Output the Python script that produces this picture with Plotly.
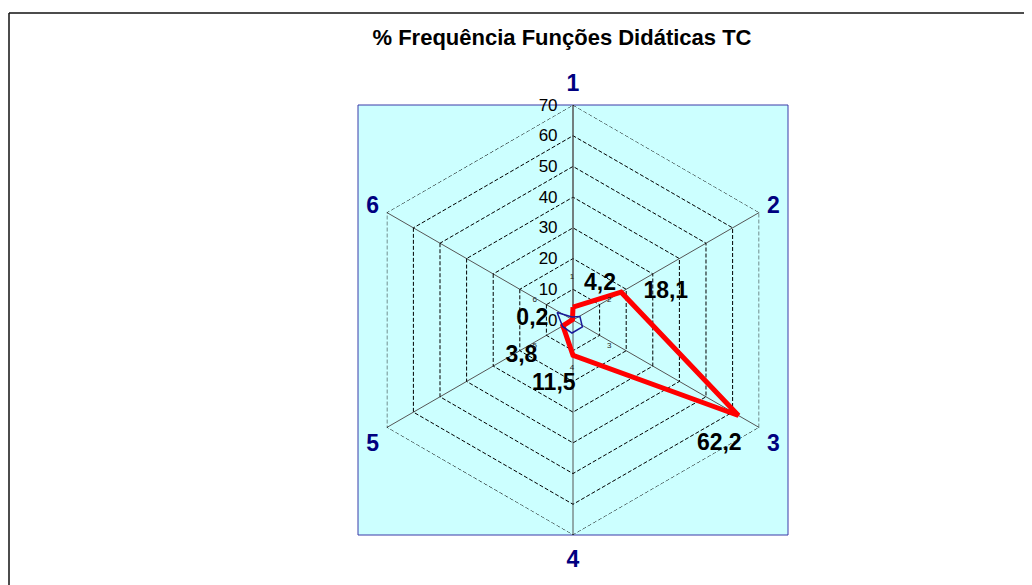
import plotly.graph_objects as go

W, H = 1032, 585
OFF = 8  # default page body margin

categories = ["1", "2", "3", "4", "5", "6"]
values_tc = [4.2, 18.1, 62.2, 11.5, 3.8, 0.2]
value_labels = ["4,2", "18,1", "62,2" + "\u00a0" * 6, "11,5" + "\u00a0" * 6, "3,8\u00a0", "0,2"]
label_positions = ["top right", "middle right", "bottom center", "bottom center", "bottom left", "middle left"]
label_pad = [16, 34, 26, 26, 29, 37]
mini_values = [7, 16, 21, 21, 19, 30]
radial_ticks = [0, 10, 20, 30, 40, 50, 60, 70]


def px_x(x):
    return (x - OFF) / W


def px_y(y):
    return 1 - (y - OFF) / H


fig = go.Figure()

theta_closed = categories + categories[:1]

# outer hexagon at the top radial tick (drawn like the other dashed gridlines)
fig.add_trace(go.Scatterpolar(
    r=[radial_ticks[-1]] * len(theta_closed),
    theta=theta_closed,
    mode="lines",
    line=dict(color="#000000", width=1, dash="4px,2px"),
    hoverinfo="skip",
    subplot="polar",
    showlegend=False,
))
# value labels (invisible markers only set the text offset)
fig.add_trace(go.Scatterpolar(
    r=values_tc,
    theta=categories,
    mode="markers+text",
    marker=dict(size=label_pad, color="rgba(0,0,0,0)", opacity=0, line=dict(width=0)),
    text=value_labels,
    textposition=label_positions,
    textfont=dict(family="Liberation Sans, Arial", size=23, color="#000000", weight="bold"),
    hoverinfo="skip",
    subplot="polar",
    showlegend=False,
))
fig.add_trace(go.Scatterpolar(
    r=values_tc + values_tc[:1],
    theta=theta_closed,
    mode="lines",
    line=dict(color="#ff0000", width=5),
    hoverinfo="skip",
    subplot="polar",
    showlegend=False,
))
fig.add_trace(go.Scatterpolar(
    r=mini_values + mini_values[:1],
    theta=theta_closed,
    mode="lines",
    line=dict(color="#1a1a9a", width=1.5),
    hoverinfo="skip",
    subplot="polar2",
    showlegend=False,
))

fig.update_layout(
    width=W, height=H,
    margin=dict(l=0, r=0, t=0, b=0),
    paper_bgcolor="white",
    plot_bgcolor="white",
    showlegend=False,
    title=dict(
        text="% Frequência Funções Didáticas TC",
        x=px_x(562), y=px_y(37), xanchor="center", yanchor="middle",
        font=dict(family="Liberation Sans, Arial", size=22, color="#000000", weight="bold"),
    ),
    polar=dict(
        domain=dict(x=[px_x(358), px_x(788)], y=[px_y(535), px_y(105)]),
        bgcolor="rgba(0,0,0,0)",
        gridshape="linear",
        angularaxis=dict(
            rotation=90, direction="clockwise",
            categoryorder="array", categoryarray=categories,
            showline=False, layer="below traces",
            showgrid=True, gridcolor="#555555", gridwidth=1,
            ticks="outside", ticklen=4, tickcolor="rgba(0,0,0,0)",
            tickfont=dict(family="Liberation Sans, Arial", size=23, color="#000080", weight="bold"),
        ),
        radialaxis=dict(
            range=[0, radial_ticks[-1]], tickvals=radial_ticks, ticktext=[str(t) for t in radial_ticks],
            angle=90, tickangle=90, side="counterclockwise", layer="below traces",
            showline=True, linecolor="#555555", linewidth=1,
            showgrid=True, gridcolor="#000000", gridwidth=1, griddash="4px,2px",
            ticks="outside", ticklen=9, tickcolor="rgba(0,0,0,0)",
            tickfont=dict(family="Liberation Sans, Arial", size=17, color="#000000"),
        ),
    ),
    polar2=dict(
        domain=dict(x=[px_x(532), px_x(612)], y=[px_y(361), px_y(281)]),
        bgcolor="rgba(0,0,0,0)",
        gridshape="linear",
        angularaxis=dict(
            rotation=90, direction="clockwise",
            categoryorder="array", categoryarray=categories,
            showline=False, showgrid=False, ticks="",
            tickfont=dict(family="Liberation Sans, Arial", size=8, color="#222222"),
        ),
        radialaxis=dict(range=[0, 70], visible=False),
    ),
    shapes=[
        dict(type="rect", xref="paper", yref="paper",
             x0=px_x(358), x1=px_x(788), y0=px_y(535), y1=px_y(105),
             fillcolor="#ccffff", line=dict(color="#3a3aa8", width=1), layer="below"),
        dict(type="line", xref="paper", yref="paper",
             x0=px_x(9), x1=1.0, y0=px_y(13), y1=px_y(13),
             line=dict(color="#111111", width=1.5)),
        dict(type="line", xref="paper", yref="paper",
             x0=px_x(9), x1=px_x(9), y0=px_y(13), y1=0.0,
             line=dict(color="#111111", width=1.5)),
    ],
)

fig.write_html("out.html")
